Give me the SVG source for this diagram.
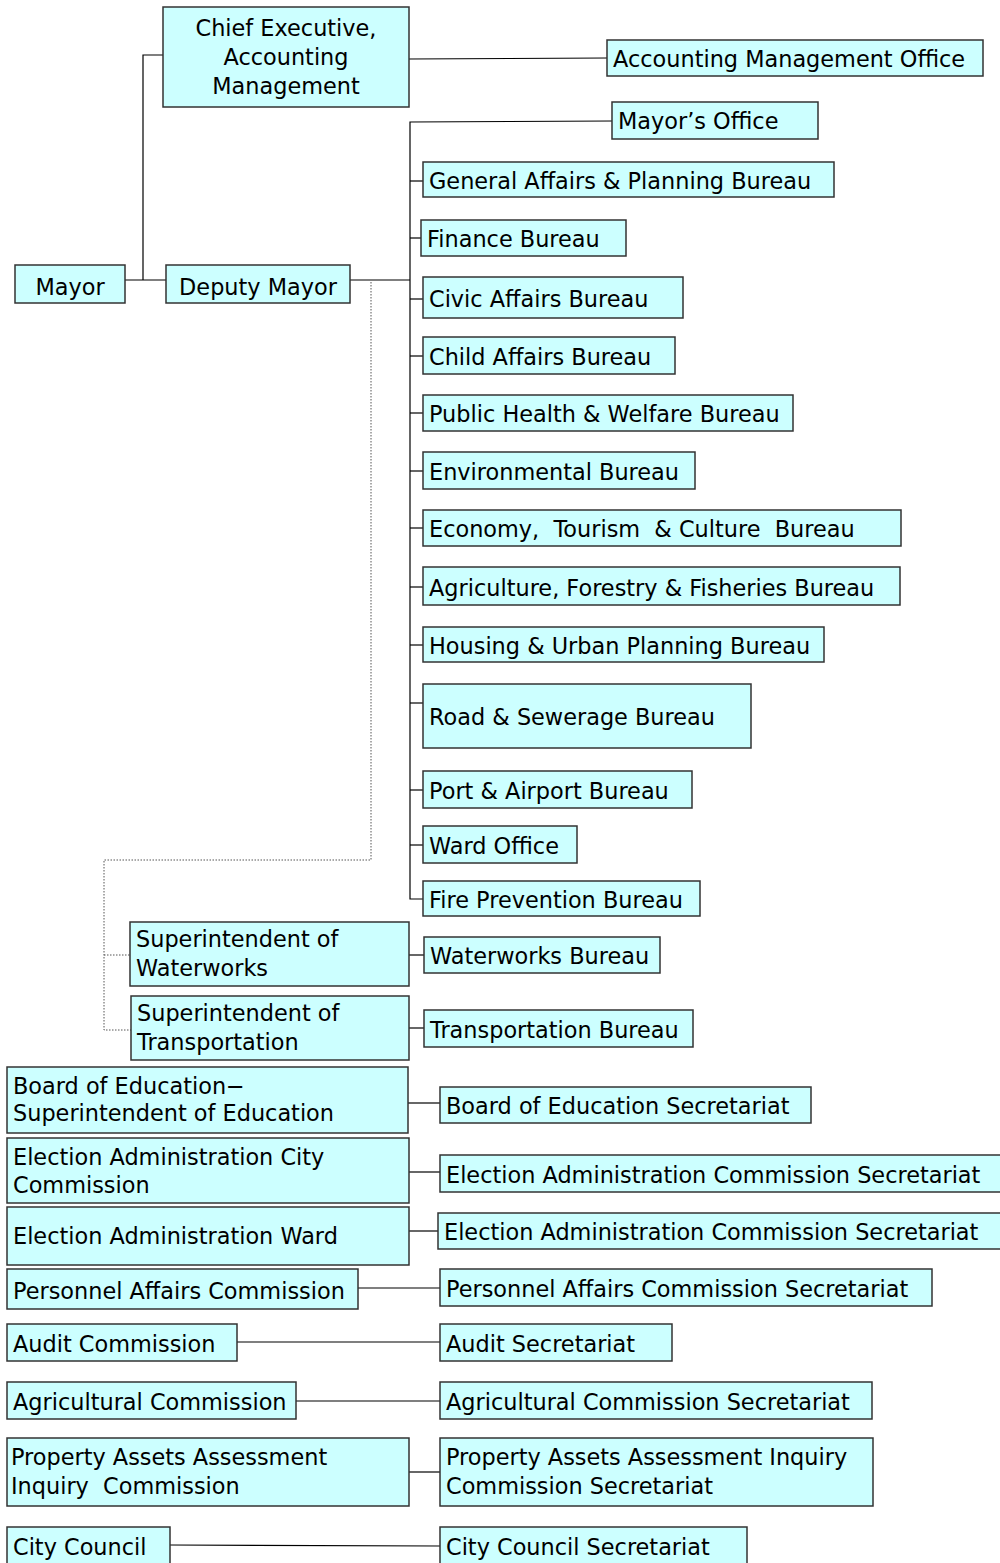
<svg xmlns="http://www.w3.org/2000/svg" width="1000" height="1563" viewBox="0 0 1000 1563">
<style>
rect.b{fill:#CCFFFF;stroke:#333;stroke-width:1.5}
text{font-family:"DejaVu Sans","Liberation Sans",Arial,sans-serif;font-size:22.4px;fill:#000;white-space:pre}
.c{text-anchor:middle}
.ln{stroke:#000;stroke-width:1.2;fill:none}
.dt{stroke:#555;stroke-width:1;stroke-dasharray:1.5 1.5;fill:none}
</style>
<rect width="1000" height="1563" fill="#fff"/>
<g id="connectors">
<polyline class="ln" points="163,55 143,55 143,280"/>
<line class="ln" x1="125" y1="280" x2="166" y2="280"/>
<line class="ln" x1="409" y1="59" x2="607" y2="58"/>
<line class="ln" x1="350" y1="280" x2="410" y2="280"/>
<polyline class="ln" points="612,121 410,122 410,899 423,899"/>
<line class="ln" x1="410" y1="181" x2="423" y2="181"/>
<line class="ln" x1="410" y1="238" x2="421" y2="238"/>
<line class="ln" x1="410" y1="299" x2="423" y2="299"/>
<line class="ln" x1="410" y1="356" x2="423" y2="356"/>
<line class="ln" x1="410" y1="413" x2="423" y2="413"/>
<line class="ln" x1="410" y1="471" x2="423" y2="471"/>
<line class="ln" x1="410" y1="528" x2="423" y2="528"/>
<line class="ln" x1="410" y1="587" x2="423" y2="587"/>
<line class="ln" x1="410" y1="645" x2="423" y2="645"/>
<line class="ln" x1="410" y1="703" x2="423" y2="703"/>
<line class="ln" x1="410" y1="790" x2="423" y2="790"/>
<line class="ln" x1="410" y1="845" x2="423" y2="845"/>
<polyline class="dt" points="371,282 371,860 104,860 104,1030 131,1030"/>
<line class="dt" x1="104" y1="955" x2="130" y2="955"/>
<line class="ln" x1="409" y1="955" x2="424" y2="955"/>
<line class="ln" x1="409" y1="1028" x2="424" y2="1028"/>
<line class="ln" x1="408" y1="1103" x2="440" y2="1103"/>
<line class="ln" x1="409" y1="1172" x2="440" y2="1172"/>
<line class="ln" x1="409" y1="1231" x2="438" y2="1231"/>
<line class="ln" x1="358" y1="1288" x2="440" y2="1288"/>
<line class="ln" x1="237" y1="1342" x2="440" y2="1342"/>
<line class="ln" x1="296" y1="1401" x2="440" y2="1401"/>
<line class="ln" x1="409" y1="1472" x2="440" y2="1472"/>
<line class="ln" x1="170" y1="1545" x2="440" y2="1546"/>
</g>
<g id="chief"><rect class="b" x="163" y="7" width="246" height="100"/><text class="c" x="286" y="36">Chief Executive,</text><text class="c" x="286" y="65">Accounting</text><text class="c" x="286" y="94">Management</text></g>
<g id="amo"><rect class="b" x="607" y="40" width="376" height="36"/><text x="613" y="67">Accounting Management Office</text></g>
<g id="mayor"><rect class="b" x="15" y="265" width="110" height="38"/><text class="c" x="70" y="295">Mayor</text></g>
<g id="deputy"><rect class="b" x="166" y="265" width="184" height="38"/><text class="c" x="258" y="295">Deputy Mayor</text></g>
<g id="mayors-office"><rect class="b" x="612" y="102" width="206" height="37"/><text x="618" y="129">Mayor’s Office</text></g>
<g id="general"><rect class="b" x="423" y="162" width="411" height="35"/><text x="429" y="189">General Affairs &amp; Planning Bureau</text></g>
<g id="finance"><rect class="b" x="421" y="220" width="205" height="36"/><text x="427" y="247">Finance Bureau</text></g>
<g id="civic"><rect class="b" x="423" y="277" width="260" height="41"/><text x="429" y="307">Civic Affairs Bureau</text></g>
<g id="child"><rect class="b" x="423" y="337" width="252" height="37"/><text x="429" y="365">Child Affairs Bureau</text></g>
<g id="health"><rect class="b" x="423" y="395" width="370" height="36"/><text x="429" y="422">Public Health &amp; Welfare Bureau</text></g>
<g id="env"><rect class="b" x="423" y="452" width="272" height="37"/><text x="429" y="480">Environmental Bureau</text></g>
<g id="economy"><rect class="b" x="423" y="510" width="478" height="36"/><text x="429" y="537">Economy,  Tourism  &amp; Culture  Bureau</text></g>
<g id="agri"><rect class="b" x="423" y="567" width="477" height="38"/><text x="429" y="596">Agriculture, Forestry &amp; Fisheries Bureau</text></g>
<g id="housing"><rect class="b" x="423" y="627" width="401" height="35"/><text x="429" y="654">Housing &amp; Urban Planning Bureau</text></g>
<g id="road"><rect class="b" x="423" y="684" width="328" height="64"/><text x="429" y="725">Road &amp; Sewerage Bureau</text></g>
<g id="port"><rect class="b" x="423" y="771" width="269" height="37"/><text x="429" y="799">Port &amp; Airport Bureau</text></g>
<g id="ward"><rect class="b" x="423" y="826" width="154" height="37"/><text x="429" y="854">Ward Office</text></g>
<g id="fire"><rect class="b" x="423" y="881" width="277" height="35"/><text x="429" y="908">Fire Prevention Bureau</text></g>
<g id="supt-water"><rect class="b" x="130" y="922" width="279" height="64"/><text x="136" y="947">Superintendent of</text><text x="136" y="976">Waterworks</text></g>
<g id="waterworks"><rect class="b" x="424" y="937" width="236" height="36"/><text x="430" y="964">Waterworks Bureau</text></g>
<g id="supt-trans"><rect class="b" x="131" y="996" width="278" height="64"/><text x="137" y="1021">Superintendent of</text><text x="137" y="1050">Transportation</text></g>
<g id="transport"><rect class="b" x="424" y="1010" width="269" height="37"/><text x="430" y="1038">Transportation Bureau</text></g>
<g id="board"><rect class="b" x="7" y="1067" width="401" height="66"/><text x="13" y="1094">Board of Education−</text><text x="13" y="1121">Superintendent of Education</text></g>
<g id="board-sec"><rect class="b" x="440" y="1087" width="371" height="36"/><text x="446" y="1114">Board of Education Secretariat</text></g>
<g id="elec-city"><rect class="b" x="7" y="1138" width="402" height="65"/><text x="13" y="1165">Election Administration City</text><text x="13" y="1193">Commission</text></g>
<g id="elec-city-sec"><rect class="b" x="440" y="1155" width="562" height="37"/><text x="446" y="1183">Election Administration Commission Secretariat</text></g>
<g id="elec-ward"><rect class="b" x="7" y="1207" width="402" height="58"/><text x="13" y="1244">Election Administration Ward</text></g>
<g id="elec-ward-sec"><rect class="b" x="438" y="1213" width="564" height="36"/><text x="444" y="1240">Election Administration Commission Secretariat</text></g>
<g id="personnel"><rect class="b" x="7" y="1269" width="351" height="40"/><text x="13" y="1299">Personnel Affairs Commission</text></g>
<g id="personnel-sec"><rect class="b" x="440" y="1269" width="492" height="37"/><text x="446" y="1297">Personnel Affairs Commission Secretariat</text></g>
<g id="audit"><rect class="b" x="7" y="1324" width="230" height="37"/><text x="13" y="1352">Audit Commission</text></g>
<g id="audit-sec"><rect class="b" x="440" y="1324" width="232" height="37"/><text x="446" y="1352">Audit Secretariat</text></g>
<g id="agricultural"><rect class="b" x="7" y="1382" width="289" height="37"/><text x="13" y="1410">Agricultural Commission</text></g>
<g id="agricultural-sec"><rect class="b" x="440" y="1382" width="432" height="37"/><text x="446" y="1410">Agricultural Commission Secretariat</text></g>
<g id="property"><rect class="b" x="7" y="1438" width="402" height="68"/><text x="11" y="1465">Property Assets Assessment</text><text x="11" y="1494">Inquiry  Commission</text></g>
<g id="property-sec"><rect class="b" x="440" y="1438" width="433" height="68"/><text x="446" y="1465">Property Assets Assessment Inquiry</text><text x="446" y="1494">Commission Secretariat</text></g>
<g id="council"><rect class="b" x="7" y="1527" width="163" height="40"/><text x="13" y="1555">City Council</text></g>
<g id="council-sec"><rect class="b" x="440" y="1527" width="307" height="40"/><text x="446" y="1555">City Council Secretariat</text></g>
</svg>
